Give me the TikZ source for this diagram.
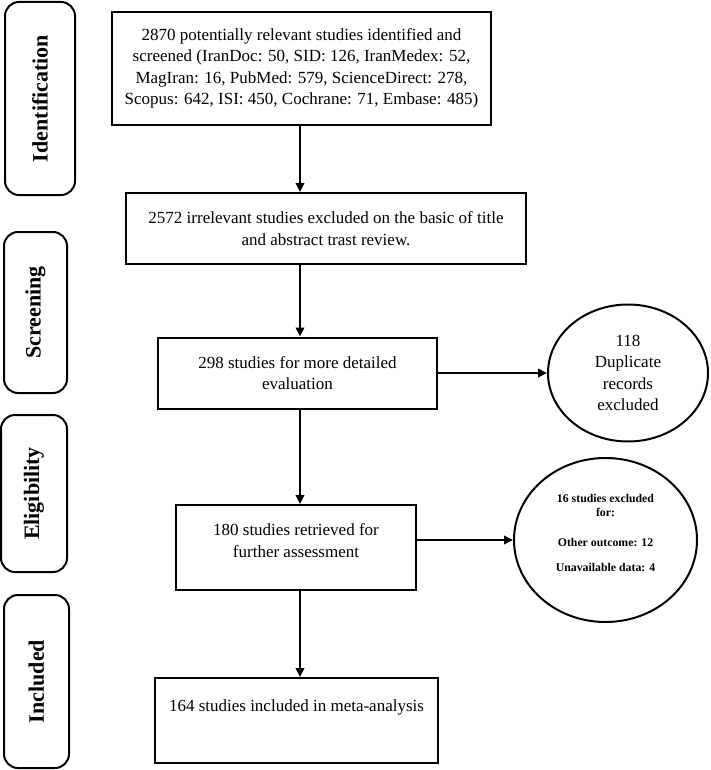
\documentclass[tikz,border=0pt]{standalone}
\usepackage{fontspec}
\setmainfont{Liberation Serif}
\usetikzlibrary{positioning, calc, arrows.meta, shapes.geometric}

\begin{document}
\begin{tikzpicture}[x=1pt, y=-1pt, line width=2pt,
        stagebox/.style={draw, rounded corners=14pt, rotate=90, inner sep=0pt, font=\fontsize{22}{26}\selectfont\bfseries},
        studybox/.style={draw, align=center, font=\fontsize{17}{21.5}\selectfont},
        exclbubble/.style={draw, ellipse, inner sep=0pt, align=center},
        flow/.style={-{Triangle[length=9pt,width=8.5pt]}}]
                \useasboundingbox (0,0) rectangle (710,770);
                % phase labels on the left
                \node[stagebox, minimum width=193pt, minimum height=70pt] (ident) at (40,98.5) {Identification};
                \node[stagebox, minimum width=161pt, minimum height=63pt] (screen) at (35.5,312.5) {Screening};
                \node[stagebox, minimum width=157pt, minimum height=66pt] (elig) at (34,493.5) {Eligibility};
                \node[stagebox, minimum width=173pt, minimum height=65pt] (incl) at (36.5,681.5) {Included};
                % flow boxes
                \coordinate (spine) at (300,0);
                \node[studybox, minimum width=379pt, minimum height=113pt] (found) at (301.5,68.5) {2870 potentially relevant studies identified and\\screened (IranDoc: 50, SID: 126, IranMedex: 52,\\MagIran: 16, PubMed: 579, ScienceDirect: 278,\\Scopus: 642, ISI: 450, Cochrane: 71, Embase: 485)};
                \node[studybox, minimum width=400pt, minimum height=71pt] (irrel) at (326,228.5) {2572 irrelevant studies excluded on the basic of title\\and abstract trast review.};
                \node[studybox, minimum width=279pt, minimum height=71pt] (detail) at (297.5,373) {298 studies for more detailed\\evaluation};
                \node[studybox, minimum width=240pt, minimum height=85pt, text depth=14pt] (retr) at (296,547.5) {180 studies retrieved for\\further assessment};
                \node[studybox, minimum width=283pt, minimum height=85pt, text depth=29pt] (meta) at (296.5,720.5) {164 studies included in meta-analysis};
                % excluded records
                \node[exclbubble, minimum width=160pt, minimum height=137pt, font=\fontsize{17}{21.5}\selectfont] (dupl) at (628,373) {118\\Duplicate\\records\\excluded};
                \node[exclbubble, minimum width=183pt, minimum height=164pt, text depth=14pt, font=\fontsize{11.8}{14}\selectfont\bfseries] (other) at (605.5,540) {16 studies excluded\\for:\\[16pt]Other outcome: 12\\[11pt]Unavailable data: 4};
                % arrows
                \draw[flow] (found.south -| spine) -- (irrel.north -| spine);
                \draw[flow] (irrel.south -| spine) -- (detail.north -| spine);
                \draw[flow] (detail.south -| spine) -- (retr.north -| spine);
                \draw[flow] (retr.south -| spine) -- (meta.north -| spine);
                \draw[flow] (detail.east) -- (dupl.west);
                \draw[flow] (retr.east |- other.west) -- (other.west);
            \end{tikzpicture}
\end{document}
